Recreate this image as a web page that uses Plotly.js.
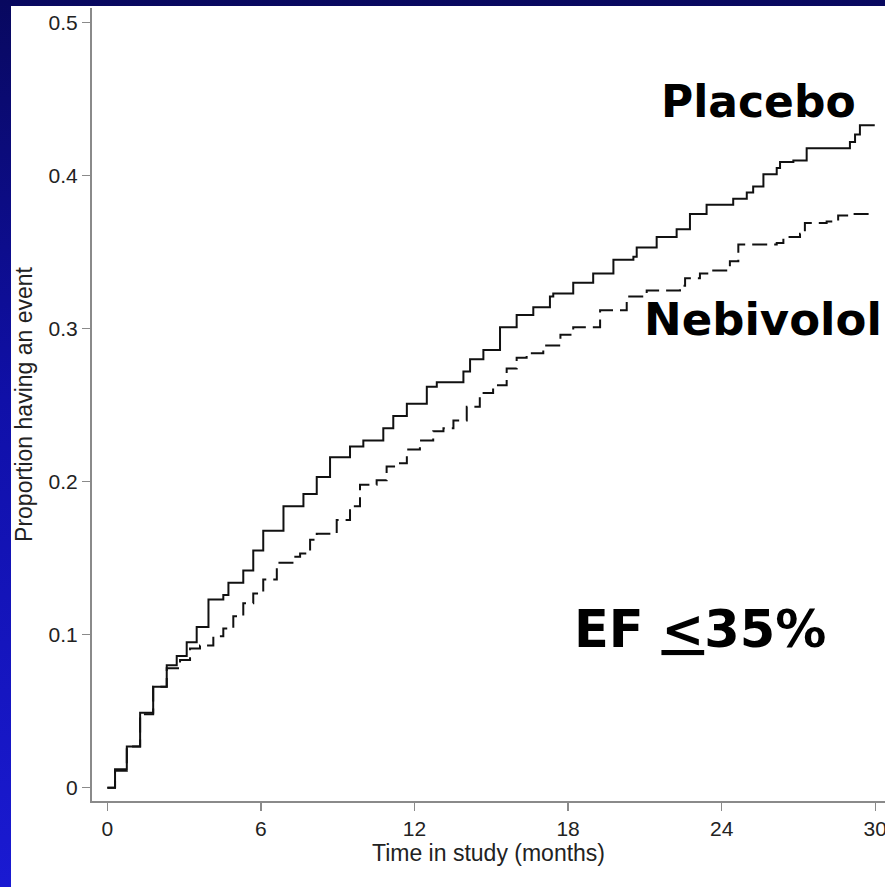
<!DOCTYPE html>
<html>
<head>
<meta charset="utf-8">
<script src="https://cdn.plot.ly/plotly-3.0.1.min.js"></script>
<style>
  html, body { margin: 0; padding: 0; width: 885px; height: 887px; overflow: hidden; }
  body { background: linear-gradient(to bottom, #08085f 0%, #1010a8 45%, #1a1ad2 100%); }
  #chart { position: absolute; left: 11px; top: 6px; width: 874px; height: 881px; background: #fff; }
</style>
</head>
<body>
<div id="chart"></div>
<script>
// Kaplan-Meier style cumulative event proportions
const placeboMonths = [0, 0.30, 0.76, 1.28, 1.79, 2.32, 2.71, 3.10, 3.49, 3.95, 4.53, 4.73, 5.31, 5.70, 6.09, 6.88, 7.66, 8.18, 8.70, 9.48, 10.0, 10.78, 11.17, 11.70, 12.48, 12.87, 13.39, 13.91, 14.17, 14.69, 15.34, 15.99, 16.64, 17.29, 17.42, 18.20, 18.98, 19.77, 20.55, 20.68, 21.46, 22.24, 22.76, 23.41, 24.45, 24.98, 25.23, 25.63, 26.15, 26.28, 26.80, 27.32, 28.95, 29.01, 29.21, 29.40, 29.98];
const placeboProp = [0, 0.012, 0.027, 0.049, 0.066, 0.080, 0.086, 0.095, 0.105, 0.123, 0.126, 0.134, 0.142, 0.155, 0.168, 0.184, 0.192, 0.203, 0.216, 0.223, 0.227, 0.235, 0.243, 0.251, 0.262, 0.265, 0.265, 0.272, 0.280, 0.286, 0.301, 0.309, 0.314, 0.321, 0.323, 0.330, 0.336, 0.345, 0.347, 0.353, 0.360, 0.365, 0.375, 0.381, 0.385, 0.389, 0.393, 0.401, 0.405, 0.409, 0.410, 0.418, 0.418, 0.422, 0.427, 0.433, 0.433];

const nebivololMonths = [0, 0.30, 0.76, 1.28, 1.79, 2.32, 2.84, 3.23, 3.62, 4.14, 4.53, 4.92, 5.31, 5.70, 6.09, 6.62, 7.27, 7.53, 7.92, 8.18, 8.96, 9.48, 9.87, 10.52, 10.91, 11.30, 11.70, 12.21, 12.73, 13.13, 13.52, 14.04, 14.55, 15.07, 15.60, 15.99, 16.38, 17.03, 17.70, 18.20, 19.25, 20.29, 21.07, 22.37, 22.57, 23.15, 23.67, 24.32, 24.65, 25.50, 26.15, 26.41, 27.06, 27.25, 28.10, 28.55, 29.14, 29.86];
const nebivololProp = [0, 0.011, 0.027, 0.048, 0.066, 0.078, 0.0835, 0.091, 0.093, 0.099, 0.104, 0.112, 0.1205, 0.127, 0.136, 0.147, 0.151, 0.153, 0.162, 0.166, 0.175, 0.184, 0.198, 0.201, 0.210, 0.212, 0.221, 0.227, 0.233, 0.235, 0.240, 0.249, 0.258, 0.263, 0.274, 0.281, 0.284, 0.289, 0.296, 0.301, 0.312, 0.321, 0.325, 0.328, 0.333, 0.336, 0.338, 0.344, 0.355, 0.355, 0.356, 0.360, 0.362, 0.369, 0.370, 0.374, 0.375, 0.375];

const xTickVals = [0, 6, 12, 18, 24, 30];
const xTickText = ['0', '6', '12', '18', '24', '30'];
const yTickVals = [0, 0.1, 0.2, 0.3, 0.4, 0.5];
const yTickText = ['0', '0.1', '0.2', '0.3', '0.4', '0.5'];

const xTitle = 'Time in study (months)';
const yTitle = 'Proportion having an event';
const labelPlacebo = 'Placebo';
const labelNebivolol = 'Nebivolol';
const labelEF = 'EF <u>&lt;</u>35%';

const traces = [
  { x: placeboMonths, y: placeboProp, type: 'scatter', mode: 'lines', name: 'Placebo',
    line: { shape: 'hv', color: '#111', width: 2 }, hoverinfo: 'skip' },
  { x: nebivololMonths, y: nebivololProp, type: 'scatter', mode: 'lines', name: 'Nebivolol',
    line: { shape: 'hv', color: '#111', width: 2, dash: '15px,7px' }, hoverinfo: 'skip' }
];

const axisFont = { family: 'Liberation Sans, Arial, sans-serif', size: 21, color: '#222' };
const titleFont = { family: 'Liberation Sans, Arial, sans-serif', size: 23, color: '#222' };
const bigFont = (s) => ({ family: 'DejaVu Sans, sans-serif', size: s, color: '#000', weight: 'bold' });

const layout = {
  width: 874, height: 881,
  margin: { l: 81, r: 0, t: 2, b: 86, pad: 0 },
  paper_bgcolor: '#fff', plot_bgcolor: '#fff',
  showlegend: false,
  xaxis: {
    range: [-0.6, 30.38], tickvals: xTickVals, ticktext: xTickText,
    showline: true, linecolor: '#8a8a8a', linewidth: 2,
    ticks: 'outside', ticklen: 8, tickwidth: 1.5, tickcolor: '#8a8a8a',
    showgrid: false, zeroline: false, tickfont: axisFont, ticklabeloverflow: 'allow',
    title: { text: xTitle, font: titleFont, standoff: 3 }
  },
  yaxis: {
    range: [-0.0087, 0.5096], tickvals: yTickVals, ticktext: yTickText,
    showline: true, linecolor: '#8a8a8a', linewidth: 2,
    ticks: 'outside', ticklen: 8, tickwidth: 1.5, tickcolor: '#8a8a8a',
    showgrid: false, zeroline: false, tickfont: axisFont,
    title: { text: yTitle, font: titleFont, standoff: 12 }
  },
  annotations: [
    { text: labelPlacebo, xref: 'paper', yref: 'paper', x: 0.841, y: 0.882, xanchor: 'center', yanchor: 'middle', showarrow: false, font: bigFont(44) },
    { text: labelNebivolol, xref: 'paper', yref: 'paper', x: 0.846, y: 0.6066, xanchor: 'center', yanchor: 'middle', showarrow: false, font: bigFont(45) },
    { text: labelEF, xref: 'paper', yref: 'paper', x: 0.767, y: 0.2157, xanchor: 'center', yanchor: 'middle', showarrow: false, font: bigFont(51) }
  ]
};

Plotly.newPlot('chart', traces, layout, { displayModeBar: false, staticPlot: true });
</script>
</body>
</html>
